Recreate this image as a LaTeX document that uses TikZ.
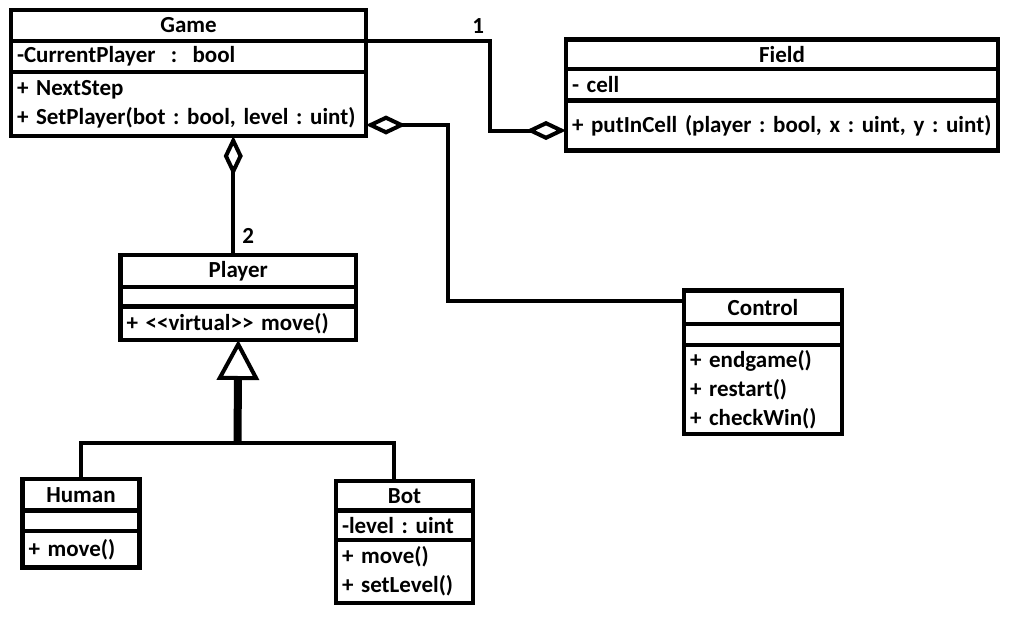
\documentclass[tikz,border=0pt]{standalone}
\usepackage{fontspec}
\setmainfont{Carlito}
\frenchspacing
\usetikzlibrary{positioning, arrows.meta}

\tikzset{
  box/.style={draw, line width=4.5pt, inner xsep=6pt, inner ysep=0pt, outer sep=0pt,
    font=\bfseries\fontsize{23}{29}\selectfont},
  head/.style={box, minimum width=#1},
  body/.style={box, text width=#1, align=left},
  link/.style={line width=4pt},
  agg/.style={link, {Diamond[open, length=40pt, width=19pt]}-},
  mult/.style={font=\bfseries\fontsize{23}{26}\selectfont, inner sep=0pt},
}

\begin{document}
\begin{tikzpicture}[x=1pt, y=-1pt]
   \useasboundingbox (0,0) rectangle (1009,616);

   % classes
   \node[head=355, minimum height=31] (game) at (188.5,25.5) {Game};
   \node[body=343, minimum height=31] (gamea) [below=0pt of game] {-CurrentPlayer\ \ :\ \ bool};
   \node[body=343, minimum height=64] (gamem) [below=0pt of gamea] {+ NextStep\\+ SetPlayer(bot : bool, level : uint)};

   \node[head=432, minimum height=29.5] (field) at (782,54.25) {Field};
   \node[body=420, minimum height=31.5] (fielda) [below=0pt of field] {- cell};
   \node[body=420, minimum height=50] (fieldm) [below=0pt of fielda] {+ putInCell (player : bool, x : uint, y : uint)};

   \node[head=235.5, minimum height=32] (player) at (238.25,271) {Player};
   \node[body=223.5, minimum height=19.5] (playera) [below=0pt of player] {};
   \node[body=223.5, minimum height=33.5] (playerm) [below=0pt of playera] {+ <{}<virtual>{}> move()};

   \node[head=158, minimum height=33.5] (ctrl) at (763,307.25) {Control};
   \node[body=146, minimum height=21] (ctrla) [below=0pt of ctrl] {};
   \node[body=146, minimum height=89] (ctrlm) [below=0pt of ctrla] {+ endgame()\\+ restart()\\+ checkWin()};

   \node[head=117, minimum height=31.5] (human) at (81,494.75) {Human};
   \node[body=105, minimum height=20.5] (humana) [below=0pt of human] {};
   \node[body=105, minimum height=36.5] (humanm) [below=0pt of humana] {+ move()};

   \node[head=137, minimum height=29.5] (bot) at (404.5,495.75) {Bot};
   \node[body=125, minimum height=29.5] (bota) [below=0pt of bot] {-level : uint};
   \node[body=125, minimum height=63] (botm) [below=0pt of bota] {+ move()\\+ setLevel()};

   % aggregations
   \draw[link, -{Diamond[open, length=40pt, width=19pt]}] (game.south east) -- ++(124,0)
      node[mult, anchor=south east, xshift=-4pt, yshift=6pt] (m1) {1}
      |- ([yshift=-5pt]fieldm.west);
   \draw[agg] ([yshift=-21pt]gamem.east) -- ++(82,0) |- ([yshift=6pt]ctrl.west);
   \draw[agg] ([xshift=-5pt]player.north |- gamem.south) -- ([xshift=-5pt]player.north)
      node[mult, anchor=south west, xshift=7pt, yshift=10pt] (m2) {2};

   % inheritance
   \coordinate (fork) at (237.5,442.5);
   \draw[line width=8pt, -{Triangle[open, length=40pt, width=42pt, line width=4pt 0]}] (fork) -- (playerm.south);
   \draw[link] (human.north) |- (fork) -| ([xshift=-10.5pt]bot.north);
\end{tikzpicture}
\end{document}
